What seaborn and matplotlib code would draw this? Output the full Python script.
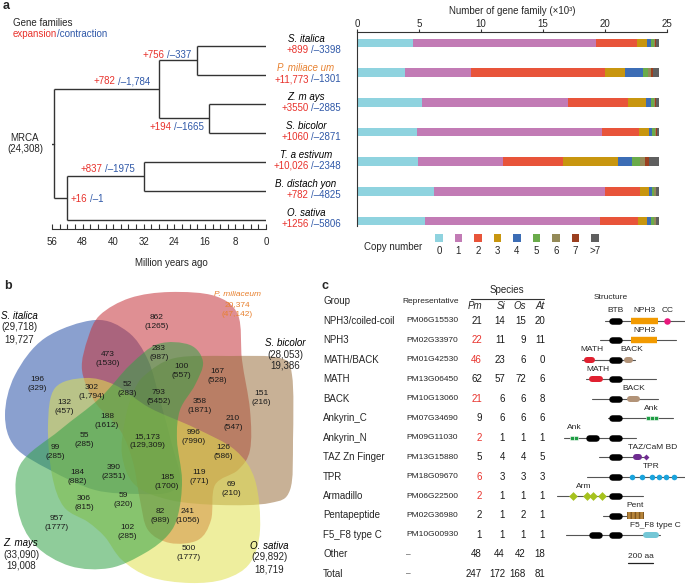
import matplotlib
matplotlib.use('Agg')
import numpy as np
import pandas as pd
import matplotlib.pyplot as plt
from matplotlib.path import Path
from matplotlib.patches import PathPatch, Rectangle
import seaborn as sns

sns.set_theme(style="white")
plt.rcParams['font.family'] = ['Liberation Sans', 'DejaVu Sans']
plt.rcParams['font.size'] = 7
plt.rcParams['axes.linewidth'] = 0.8

W, H = 685, 584
RED = '#e8322c'
BLUE = '#2f58a8'
ORANGE = '#e8812f'

# ---------------- panel a: tree ----------------
species = ["S. italica", "P. miliace um", "Z. m ays", "S. bicolor",
           "T. a estivum", "B. distach yon", "O. sativa"]
leaf_gain = ["+899", "+11,773", "+3550", "+1060", "+10,026", "+782", "+1256"]
leaf_loss = ["/–3398", "/–1301", "/–2885", "/–2871", "/–2348", "/–4825", "/–5806"]
# internal nodes: name -> (child, child, age in Mya)
tree_nodes = {
    "n1": (0, 1, 18),
    "n2": (2, 3, 15),
    "n3": ("n1", "n2", 28),
    "n4": (4, 5, 32),
    "n5": ("n4", 6, 52),
    "root": ("n3", "n5", 55.5),
}
node_gain = {"n1": "+756", "n3": "+782", "n2": "+194", "n4": "+837", "n5": "+16"}
node_loss = {"n1": "/–337", "n3": "/–1,784", "n2": "/–1665", "n4": "/–1975", "n5": "/–1"}
mrca_total = "24,308"

# ---------------- panel a: copy number bars (x10^3) ----------------
bar_species = ["S. italica", "P. miliaceum", "Z. mays", "S. bicolor",
               "T. aestivum", "B. distachyon", "O. sativa"]
copy_labels = ["0", "1", "2", "3", "4", "5", "6", "7", ">7"]
copy0 = [4.55, 3.85, 5.23, 4.82, 4.93, 6.20, 5.52]
copy1 = [14.71, 5.36, 11.80, 14.93, 6.82, 13.82, 14.09]
copy2 = [3.32, 10.83, 4.84, 3.01, 4.84, 2.82, 3.05]
copy3 = [0.83, 1.57, 1.41, 0.81, 4.42, 0.73, 0.75]
copy4 = [0.32, 1.45, 0.45, 0.24, 1.19, 0.22, 0.30]
copy5 = [0.19, 0.40, 0.19, 0.25, 0.64, 0.19, 0.21]
copy6 = [0.11, 0.25, 0.14, 0.08, 0.38, 0.10, 0.16]
copy7 = [0.08, 0.19, 0.08, 0.05, 0.35, 0.06, 0.06]
copy8 = [0.22, 0.43, 0.19, 0.14, 0.76, 0.19, 0.19]
copy_colors = ['#8fd3df', '#c27bb5', '#e8543a', '#c8960f', '#3c6db5',
               '#6aab4a', '#948a58', '#9b3f1f', '#5f5f5f']

# ---------------- panel b: venn ----------------
venn_sets = ["S. italica", "P. miliaceum", "S. bicolor", "O. sativa", "Z. mays"]
venn_genes = ["29,718", "47,142", "28,053", "29,892", "33,090"]
venn_families = ["19,727", "20,374", "19,386", "18,719", "19,008"]
region_fam = ["862", "473", "283", "100", "167", "196", "302", "52", "793", "358",
              "151", "132", "188", "210", "55", "15,173", "996", "99", "126", "390",
              "184", "185", "119", "69", "306", "59", "957", "82", "241", "102", "500"]
region_gene = ["1265", "1530", "987", "557", "528", "329", "1,794", "283", "5452", "1871",
               "216", "457", "1612", "547", "285", "129,309", "7990", "285", "586", "2351",
               "882", "1700", "771", "210", "815", "320", "1777", "989", "1056", "285", "1777"]

# ---------------- panel c: table ----------------
groups = ["NPH3/coiled-coil", "NPH3", "MATH/BACK", "MATH", "BACK", "Ankyrin_C",
          "Ankyrin_N", "TAZ Zn Finger", "TPR", "Armadillo", "Pentapeptide",
          "F5_F8 type C", "Other", "Total"]
representative = ["PM06G15530", "PM02G33970", "PM01G42530", "PM13G06450", "PM10G13060",
                  "PM07G34690", "PM09G11030", "PM13G15880", "PM18G09670", "PM06G22500",
                  "PM02G36980", "PM10G00930", "–", "–"]
n_pm = [21, 22, 46, 62, 21, 9, 2, 5, 6, 2, 2, 1, 48, 247]
n_si = [14, 11, 23, 57, 6, 6, 1, 4, 3, 1, 1, 1, 44, 172]
n_os = [15, 9, 6, 72, 6, 6, 1, 4, 3, 1, 2, 1, 42, 168]
n_at = [20, 11, 0, 6, 8, 6, 1, 5, 3, 1, 1, 1, 18, 81]
pm_expanded = [1, 2, 4, 6, 8, 9]

# protein structures, positions in aa relative to the aligned BTB domain
struct_span = [(-32, 620), (-72, 536), (-216, 208), (-184, 376), (-136, 392), (-8, 512),
               (-360, 216), (-80, 304), (-176, 620), (-416, 272), (-48, 272), (-344, 408)]
struct_domains = [
    [("BTB", -4, 108), ("NPH3", 176, 392), ("CC", 464, 464)],
    [("BTB", -4, 108), ("NPH3", 176, 384)],
    [("MATH", -200, -112), ("BTB", -4, 108), ("BACK", 120, 192)],
    [("MATH", -160, -48), ("BTB", -4, 108)],
    [("BTB", -4, 108), ("BACK", 144, 248)],
    [("BTB", -4, 108), ("Ank", 308, 308), ("Ank", 340, 340), ("Ank", 372, 372)],
    [("Ank", -296, -296), ("Ank", -264, -264), ("BTB", -184, -80), ("BTB", -4, 108)],
    [("BTB", -4, 108), ("TAZ", 192, 264), ("CaM", 296, 296)],
    [("BTB", -4, 108), ("TPR", 184, 184), ("TPR", 264, 264), ("TPR", 344, 344),
     ("TPR", 400, 400), ("TPR", 456, 456), ("TPR", 520, 520)],
    [("Arm", -288, -288), ("Arm", -176, -176), ("Arm", -128, -128), ("Arm", -56, -56),
     ("BTB", -4, 108)],
    [("BTB", -4, 108), ("Pent", 144, 280)],
    [("BTB", -160, -56), ("BTB", -4, 108), ("F5", 272, 400)],
]
struct_labels = [
    [("BTB", 56), ("NPH3", 280), ("CC", 472)],
    [("NPH3", 280)],
    [("MATH", -136), ("BACK", 184)],
    [("MATH", -92)],
    [("BACK", 200)],
    [("Ank", 339)],
    [("Ank", -280)],
    [("TAZ/CaM BD", 352)],
    [("TPR", 336)],
    [("Arm", -204)],
    [("Pent", 208)],
    [("F5_F8 type C", 372)],
]
domain_colors = {"BTB": "black", "NPH3": "#f29a00", "CC": "#e8187c", "MATH": "#e02030",
                 "BACK": "#b29378", "Ank": "#1f9e45", "TAZ": "#6f2c91", "CaM": "#6f2c91",
                 "TPR": "#1aa3dc", "Arm": "#a6c21e", "Pent": "#b5843a", "F5": "#74c7d6"}


def fig_axes(fig, x0, y0, x1, y1):
    return fig.add_axes([x0 / W, 1 - y1 / H, (x1 - x0) / W, (y1 - y0) / H])


def two_tone(ax, x, y, red_txt, blue_txt, size=7):
    ax.text(x - 1.2, y, red_txt, color=RED, ha='right', va='center', fontsize=size)
    ax.text(x + 1.2, y, blue_txt, color=BLUE, ha='left', va='center', fontsize=size)


def smooth_blob(pts):
    p = np.asarray(pts, float)
    n = len(p)
    verts = [p[0]]
    codes = [Path.MOVETO]
    for i in range(n):
        p0, p1, p2, p3 = p[i - 1], p[i], p[(i + 1) % n], p[(i + 2) % n]
        verts += [p1 + (p2 - p0) / 6, p2 - (p3 - p1) / 6, p2]
        codes += [Path.CURVE4] * 3
    return Path(verts, codes)


fig = plt.figure(figsize=(W / 100, H / 100), dpi=100)

# ---------- tree ----------
ax_t = fig_axes(fig, 52, 30, 266, 229)
leaf_y = {i: float(i) for i in range(len(species))}


def node_y(n):
    if not isinstance(n, str):
        return leaf_y[n]
    a, b, _ = tree_nodes[n]
    return (node_y(a) + node_y(b)) / 2


def node_age(n):
    return 0 if not isinstance(n, str) else tree_nodes[n][2]


lc = '#333333'
for name, (a, b, age) in tree_nodes.items():
    ax_t.plot([age, age], [node_y(a), node_y(b)], color=lc, lw=1.0, solid_capstyle='butt')
    for ch in (a, b):
        ax_t.plot([age, node_age(ch)], [node_y(ch)] * 2, color=lc, lw=1.0, solid_capstyle='butt')
ax_t.plot([56.4, 55.5], [node_y("root")] * 2, color=lc, lw=1.0)

ax_t.set_xlim(56, 0)
ax_t.set_ylim(6.31, -0.55)
for s in ['top', 'right', 'left']:
    ax_t.spines[s].set_visible(False)
ax_t.spines['bottom'].set_color(lc)
ax_t.set_yticks([])
ax_t.set_xticks(np.arange(0, 57, 8))
ax_t.set_xticks(np.arange(0, 57, 2), minor=True)
ax_t.tick_params(axis='x', which='both', direction='in', length=3.5, width=0.8,
                 color=lc, labelsize=7, pad=6, bottom=True)
ax_t.set_xlabel("Million years ago", fontsize=7)
ax_t.xaxis.set_label_coords(0.56, -0.145)
ax_t.patch.set_alpha(0)

# ---------- stacked bars ----------
ax_bar = fig_axes(fig, 357, 32, 667, 226)
stack = np.array([copy0, copy1, copy2, copy3, copy4, copy5, copy6, copy7, copy8]).T
cum = np.cumsum(stack, axis=1)
for k in range(len(copy_labels) - 1, -1, -1):
    sns.barplot(x=cum[:, k], y=bar_species, orient='h', color=copy_colors[k],
                width=0.3, saturation=1, errorbar=None, linewidth=0, ax=ax_bar)
ax_bar.set_xlim(0, 25)
ax_bar.set_ylim(6.169, -0.372)
ax_bar.xaxis.tick_top()
ax_bar.xaxis.set_label_position('top')
ax_bar.set_xticks([0, 5, 10, 15, 20, 25])
ax_bar.tick_params(axis='x', direction='out', length=2, width=0.8, labelsize=7, pad=0.5,
                   top=True, bottom=False, color='#333333')
ax_bar.set_xlabel("Number of gene family (×10³)", fontsize=7, labelpad=3.5)
ax_bar.set_ylabel("")
ax_bar.set_yticks([])
for s in ['right', 'bottom']:
    ax_bar.spines[s].set_visible(False)
for s in ['left', 'top']:
    ax_bar.spines[s].set_color('#333333')
ax_bar.patch.set_alpha(0)

# copy number legend
ax_leg = fig_axes(fig, 429.25, 230, 604.75, 258)
ax_leg.set_xlim(-0.5, 8.5)
ax_leg.set_ylim(258, 230)
ax_leg.axis('off')
ax_leg.scatter(range(len(copy_labels)), [238] * len(copy_labels), marker='s', s=33,
               c=copy_colors, linewidths=0)
for i, lab in enumerate(copy_labels):
    ax_leg.text(i, 250.5, lab, ha='center', va='center', fontsize=7)

# ---------- venn ----------
ax_b = fig_axes(fig, 0, 280, 340, 584)
ax_b.set_xlim(0, 340)
ax_b.set_ylim(584, 280)
ax_b.axis('off')
blob_pts = {
    "S. italica": [(95, 320), (128, 332), (148, 360), (160, 400), (172, 445), (180, 478),
                   (170, 492), (140, 494), (95, 490), (50, 470), (15, 447), (5, 415),
                   (15, 375), (45, 338)],
    "P. miliaceum": [(100, 315), (130, 298), (170, 292), (215, 296), (238, 315), (242, 360),
                     (250, 410), (250, 450), (238, 470), (215, 485), (211, 520), (198, 540),
                     (170, 543), (148, 530), (140, 500), (133, 462), (120, 430), (95, 402),
                     (82, 370), (88, 338)],
    "S. bicolor": [(145, 375), (175, 358), (230, 356), (280, 358), (292, 375), (293, 440),
                   (290, 490), (270, 503), (220, 505), (170, 500), (135, 485), (122, 455),
                   (125, 420), (133, 393)],
    "O. sativa": [(55, 388), (85, 378), (115, 385), (150, 408), (195, 428), (235, 450),
                  (255, 480), (260, 530), (250, 563), (225, 579), (190, 583), (150, 577),
                  (122, 560), (105, 537), (88, 522), (64, 507), (52, 475), (48, 425)],
    "Z. mays": [(20, 465), (60, 430), (100, 398), (130, 365), (158, 344), (190, 345),
                (203, 362), (195, 385), (180, 410), (177, 440), (182, 480), (178, 515),
                (168, 535), (145, 553), (110, 568), (70, 566), (35, 545), (18, 510)],
}
blob_colors = {"S. italica": '#2a52a9', "P. miliaceum": '#c6333a', "S. bicolor": '#9b7140',
               "O. sativa": '#e0e04e', "Z. mays": '#33a247'}
for name in ["S. italica", "P. miliaceum", "S. bicolor", "O. sativa", "Z. mays"]:
    ax_b.add_patch(PathPatch(smooth_blob(blob_pts[name]), facecolor=blob_colors[name],
                             edgecolor='none', alpha=0.55))

region_xy = [(157, 322), (108, 359), (159, 353), (181, 371), (217, 376), (37, 384),
             (92, 392), (127, 389), (159, 397), (200, 406), (261, 398), (64, 407),
             (107, 421), (233, 423), (84, 440), (147, 441), (194, 437), (55, 452),
             (223, 452), (114, 472), (77, 477), (167, 482), (199, 477), (231, 489),
             (84, 503), (123, 500), (57, 523), (160, 516), (188, 516), (127, 532),
             (189, 553)]
for (x, y), f, g in zip(region_xy, region_fam, region_gene):
    ax_b.text(x, y, f"{f}\n({g})", ha='center', va='center', fontsize=6,
              linespacing=1.25, color='#1a1a1a')

set_label_xy = [(19, 316), (237, 294), (285, 343), (269, 546), (21, 543)]
for i, (x, y) in enumerate(set_label_xy):
    col = ORANGE if venn_sets[i] == "P. miliaceum" else 'black'
    sz = 6 if venn_sets[i] == "P. miliaceum" else 7
    ax_b.text(x, y, venn_sets[i], style='italic', ha='center', va='center', fontsize=sz, color=col)
    if venn_sets[i] == "P. miliaceum":
        ax_b.text(x, y + 10.5, venn_families[i], ha='center', va='center', fontsize=sz, color=col)
        ax_b.text(x, y + 21, f"({venn_genes[i]})", ha='center', va='center', fontsize=sz, color=col)
    else:
        ax_b.text(x, y + 11.5, f"({venn_genes[i]})", ha='center', va='center', fontsize=sz)
        ax_b.text(x, y + 23, venn_families[i], ha='center', va='center', fontsize=sz)

# ---------- table ----------
row0_px, row_step = 320.7, 19.48
r_top = (283 - row0_px) / row_step
r_bot = (584 - row0_px) / row_step
ax_c = fig_axes(fig, 320, 283, 685, 584)
ax_c.set_xlim(320, 685)
ax_c.set_ylim(r_bot, r_top)
ax_c.axis('off')
ax_c.text(323, -1.01, "Group", ha='left', va='center', fontsize=7)
ax_c.text(431, -0.96, "Representative", ha='center', va='center', fontsize=6)
ax_c.text(507, -1.58, "Species", ha='center', va='center', fontsize=7)
ax_c.plot([471, 544], [-1.114, -1.114], color='#333333', lw=0.8)
col_x = [482, 505, 526, 545]
for x, lab in zip(col_x, ["Pm", "Si", "Os", "At"]):
    ax_c.text(x, -0.75, lab, ha='right', va='center', fontsize=7, style='italic')
for i in range(len(groups)):
    ax_c.text(323, i, groups[i], ha='left', va='center', fontsize=7)
    ax_c.text(406, i, representative[i], ha='left', va='center', fontsize=6)
    vals = [n_pm[i], n_si[i], n_os[i], n_at[i]]
    for j, (x, v) in enumerate(zip(col_x, vals)):
        c = RED if (j == 0 and i in pm_expanded) else '#1a1a1a'
        ax_c.text(x, i, str(v), ha='right', va='center', fontsize=7, color=c)

# ---------- protein structures ----------
AA_PER_PX = 8
ax_s = fig_axes(fig, 540, 283, 685, 584)
ax_s.set_xlim((540 - 609) * AA_PER_PX, (685 - 609) * AA_PER_PX)
ax_s.set_ylim(r_bot, r_top)
ax_s.axis('off')
ax_s.text(16, -1.17, "Structure", ha='center', va='center', fontsize=6)


def rounded(ax, x0, x1, y, color, h_px):
    cap = h_px / 2 * AA_PER_PX
    a, b = x0 + cap, x1 - cap
    if b < a:
        a = b = (x0 + x1) / 2
    ax.plot([a, b], [y, y], color=color, lw=h_px * 0.72, solid_capstyle='round', zorder=3)


for i, (s0, s1) in enumerate(struct_span):
    ax_s.plot([s0, s1], [i, i], color='#555555', lw=0.8, zorder=1, clip_on=False)
    for kind, a, b in struct_domains[i]:
        col = domain_colors[kind]
        if kind in ("BTB", "MATH", "BACK", "TAZ", "F5"):
            rounded(ax_s, a, b, i, col, 6.5 if kind == "BTB" else 6)
        elif kind == "NPH3":
            ax_s.plot([a, b], [i, i], color=col, lw=4.6, solid_capstyle='butt', zorder=3)
        elif kind == "Pent":
            ax_s.add_patch(Rectangle((a, i - 0.16), b - a, 0.32, facecolor=col,
                                     edgecolor='#7d5522', hatch='||||', lw=0, zorder=3))
        elif kind == "CC":
            ax_s.scatter([a], [i], s=22, marker='o', color=col, zorder=3, linewidths=0)
        elif kind == "CaM":
            ax_s.scatter([a], [i], s=9, marker='D', color=col, zorder=3, linewidths=0)
        elif kind == "TPR":
            ax_s.scatter([a], [i], s=16, marker='o', color=col, zorder=3, linewidths=0)
        elif kind == "Arm":
            ax_s.scatter([a], [i], s=20, marker='D', color=col, zorder=3, linewidths=0)
        elif kind == "Ank":
            ax_s.scatter([a], [i], s=9, marker='s', color=col, zorder=3,
                         edgecolors='white', linewidths=0.4)
    for lab, x in struct_labels[i]:
        ax_s.text(x, i - 0.5, lab, ha='center', va='center', fontsize=6)
ax_s.plot([152, 352], [12.44, 12.44], color='#222222', lw=0.9)
ax_s.text(252, 12.08, "200 aa", ha='center', va='center', fontsize=6)

# ---------- free text overlay (pixel coordinates) ----------
ax_txt = fig.add_axes([0, 0, 1, 1])
ax_txt.set_xlim(0, W)
ax_txt.set_ylim(H, 0)
ax_txt.axis('off')
ax_txt.patch.set_alpha(0)
for lab, (x, y) in zip("abc", [(3, 6), (4, 286), (322, 286)]):
    ax_txt.text(x, y, lab, fontsize=9, fontweight='bold', ha='left', va='center')

ax_txt.text(13, 23, "Gene families", ha='left', va='center', fontsize=7)
ax_txt.text(57, 34, "expansion", ha='right', va='center', fontsize=7, color=RED)
ax_txt.text(57, 34, "/contraction", ha='left', va='center', fontsize=7, color=BLUE)
ax_txt.text(25, 138, "MRCA", ha='center', va='center', fontsize=7)
ax_txt.text(25, 149, f"({mrca_total})", ha='center', va='center', fontsize=7)
ax_txt.text(393, 247, "Copy number", ha='center', va='center', fontsize=7)

for i, sp in enumerate(species):
    y = 46 + 29 * i
    col = ORANGE if i == 1 else 'black'
    ax_txt.text(306, y - 7, sp, ha='center', va='center', fontsize=7, style='italic', color=col)
    two_tone(ax_txt, 310, y + 4, leaf_gain[i], leaf_loss[i])

branch_label_xy = {"n1": (166, 55), "n3": (116.5, 81), "n2": (173, 127),
                   "n4": (104, 169), "n5": (88.5, 199)}
for n, (x, y) in branch_label_xy.items():
    two_tone(ax_txt, x, y, node_gain[n], node_loss[n])

fig.savefig("out.png", dpi=100)
